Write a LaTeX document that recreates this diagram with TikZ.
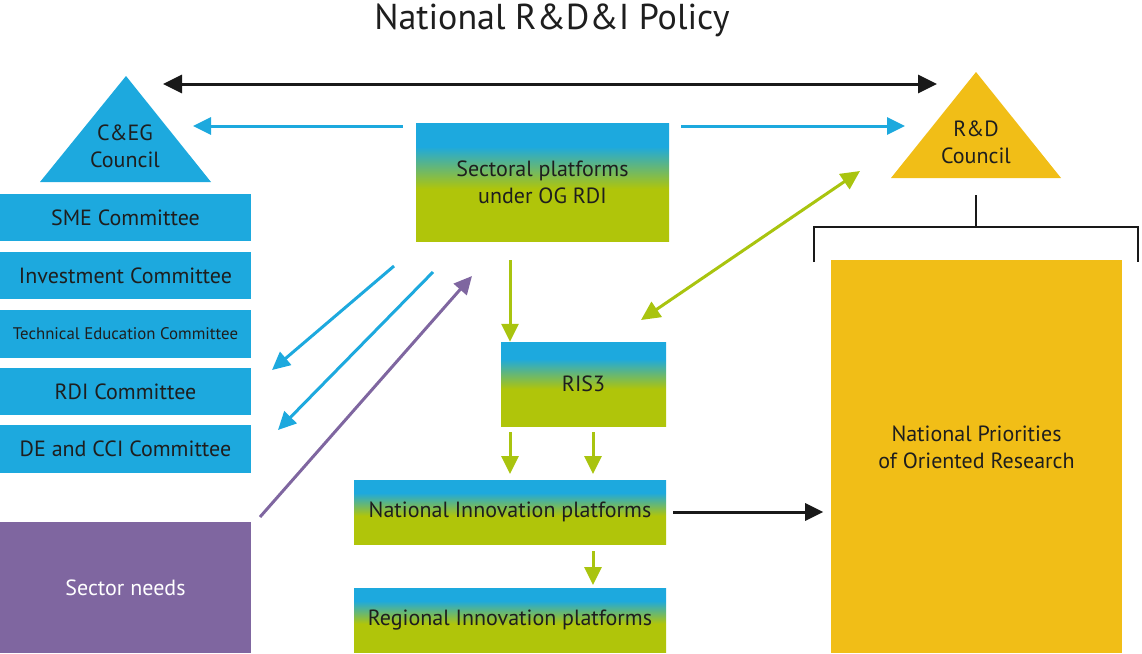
\documentclass[tikz,border=0pt]{standalone}
\usepackage{fontspec}
\setmainfont{PT Sans}
\usetikzlibrary{arrows.meta}
\definecolor{cblue}{HTML}{1DA9DE}
\definecolor{cgreen}{HTML}{B0C50A}
\definecolor{cgarrow}{HTML}{A9C40F}
\definecolor{cyellow}{HTML}{F1BE17}
\definecolor{cpurple}{HTML}{7F66A0}
\definecolor{ctext}{HTML}{1E1E1E}
\pgfdeclareverticalshading{bluegreen}{100bp}{color(0bp)=(cgreen); color(47bp)=(cgreen); color(65bp)=(cblue); color(100bp)=(cblue)}
\tikzset{
  box/.style={rectangle, inner sep=0pt, text=ctext, font=\fontsize{22}{27}\selectfont, align=center},
  comm/.style={box, fill=cblue, minimum width=251pt, minimum height=47pt},
  grad/.style={box, shading=bluegreen},
  arr/.style={line width=3pt, -{Triangle[length=18pt,width=17pt]}},
  darr/.style={line width=3pt, {Triangle[length=19pt,width=18pt]}-{Triangle[length=19pt,width=18pt]}},
  tri/.style={text=ctext, font=\fontsize{22}{27}\selectfont, align=center, inner sep=0pt}
}
\begin{document}
\begin{tikzpicture}[x=1pt,y=-1pt]
\useasboundingbox (0,0) rectangle (1142,653);
% title
\node[text=ctext, font=\fontsize{36}{42}\selectfont] (title) at (552,20) {National R\&D\&I Policy};
% triangles
\fill[cblue] (126,76) -- (211,182) -- (40,182) -- cycle;
\node[tri] (ceg) at (125,146) {C\&EG\\Council};
\fill[cyellow] (976,72) -- (1061,178) -- (891,178) -- cycle;
\node[tri] (rdc) at (976,142) {R\&D\\Council};
\coordinate (blackL) at (163,84);
\coordinate (blackR) at (937,84);
\draw[darr, black!90] (blackL) -- (blackR);
% committees
\node[comm] (sme) at (125.5,217.5) {SME Committee};
\node[comm] (inv) at (125.5,275.5) {Investment Committee};
\node[comm, minimum height=48pt, font=\fontsize{16.8}{20}\selectfont] (tec) at (125.5,334) {Technical Education Committee};
\node[comm] (rdi) at (125.5,391.5) {RDI Committee};
\node[comm, minimum height=48pt] (dec) at (125.5,449) {DE and CCI Committee};
\node[box, fill=cpurple, text=white, minimum width=251pt, minimum height=131pt] (sect) at (125.5,587.5) {Sector needs};
% gradient boxes
\node[grad, minimum width=253pt, minimum height=118pt] (sp) at (542.5,182) {Sectoral platforms\\under OG RDI};
\node[grad, minimum width=165pt, minimum height=84pt] (ris) at (583.5,384) {RIS3};
\node[grad, minimum width=312pt, minimum height=64pt] (nip) at (510,512) {National Innovation platforms};
\node[grad, minimum width=312pt, minimum height=64pt] (rip) at (510,620) {Regional Innovation platforms};
\node[box, fill=cyellow, minimum width=291pt, minimum height=393pt, text depth=18pt] (npor) at (976.5,456.5) {National Priorities\\of Oriented Research};
% blue arrows from sectoral platforms
\draw[arr, cblue] (sp.west |- 0,126) ++(-13,0) -- (193,126);
\draw[arr, cblue] (sp.east |- 0,126) ++(12,0) -- (905,126);
\coordinate (b1s) at (394,266);
\coordinate (b1e) at (272,370);
\coordinate (b2s) at (433,272);
\coordinate (b2e) at (278,430);
\draw[arr, cblue] (b1s) -- (b1e);
\draw[arr, cblue] (b2s) -- (b2e);
% purple arrow
\coordinate (ps) at (260,517);
\coordinate (pe) at (472,276);
\draw[arr, cpurple] (ps) -- (pe);
% green arrows
\coordinate (g1s) at (510,260);
\draw[arr, cgarrow] (g1s) -- (g1s |- ris.north);
\coordinate (gd1) at (641,320);
\coordinate (gd2) at (860,171);
\draw[darr, cgarrow] (gd1) -- (gd2);
\draw[arr, cgarrow] (510,432) -- (510,474);
\draw[arr, cgarrow] (593,432) -- (593,474);
\draw[arr, cgarrow] (593,551) -- (593,585);
% black arrow to priorities
\draw[arr, black!90] (nip.east) ++(7,0) -- ++(150,0);
% bracket
\draw[line width=2.5pt, black!90] (976,195) -- (976,227);
\draw[line width=2.5pt, black!90] (814,262) -- (814,227) -- (1138,227) -- (1138,262);
\end{tikzpicture}
\end{document}
